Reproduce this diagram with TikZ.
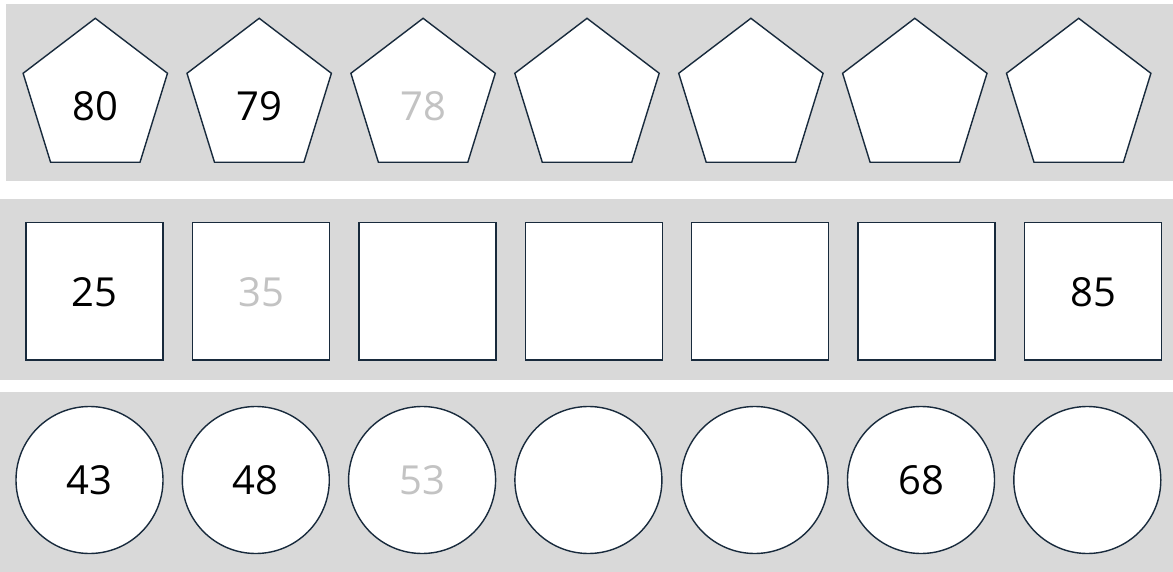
\documentclass[tikz,border=0pt]{standalone}
\usepackage{fontspec}
\setmainfont{Open Sans}
\definecolor{panelgray}{HTML}{D9D9D9}
\definecolor{edge}{HTML}{182A3C}
\definecolor{faded}{HTML}{C3C3C3}
\tikzset{
  shapeline/.style={draw=edge, line width=1.4pt, fill=white, line join=miter},
  numlabel/.style={anchor=base, inner sep=0pt, font=\fontsize{40}{48}\selectfont, text=black},
  fadedlabel/.style={numlabel, text=faded},
  panel/.style={fill=panelgray, draw=none}
}
\begin{document}
\begin{tikzpicture}[x=1pt,y=-1pt]
\useasboundingbox (0,0) rectangle (1173,572);
% panels
\fill[panel] (6,4) rectangle (1173,181);
\fill[panel] (0,199.5) rectangle (1173,379.5);
\fill[panel] (0,392) rectangle (1173,572);
% pentagons
\foreach \i in {0,...,6}{
  \pgfmathsetmacro{\cx}{95.3+163.9*\i}
  \draw[shapeline] (\cx,18.3) -- (\cx+72.2,73.3) -- (\cx+44.7,162.3) -- (\cx-44.7,162.3) -- (\cx-72.2,73.3) -- cycle;
  \coordinate (p\i) at (\cx,120.7);
}
\node[numlabel] (t80) at (p0) {80};
\node[numlabel] (t79) at (p1) {79};
\node[fadedlabel] (t78) at (p2) {78};
% squares
\foreach \i in {0,...,6}{
  \pgfmathsetmacro{\cx}{94.6+166.4*\i}
  \node[shapeline, minimum width=137pt, minimum height=137.5pt, inner sep=0pt, anchor=center] (s\i) at (\cx,291.2) {};
  \coordinate (sb\i) at (\cx,306.7);
}
\node[numlabel] (t25) at (sb0) {25};
\node[fadedlabel] (t35) at (sb1) {35};
\node[numlabel] (t85) at (sb6) {85};
% circles
\foreach \i in {0,...,6}{
  \pgfmathsetmacro{\cx}{89.5+166.3*\i}
  \node[shapeline, circle, minimum size=147pt, inner sep=0pt] (c\i) at (\cx,480) {};
  \coordinate (cb\i) at (\cx,494.3);
}
\node[numlabel] (t43) at (cb0) {43};
\node[numlabel] (t48) at (cb1) {48};
\node[fadedlabel] (t53) at (cb2) {53};
\node[numlabel] (t68) at (cb5) {68};
\end{tikzpicture}
\end{document}
